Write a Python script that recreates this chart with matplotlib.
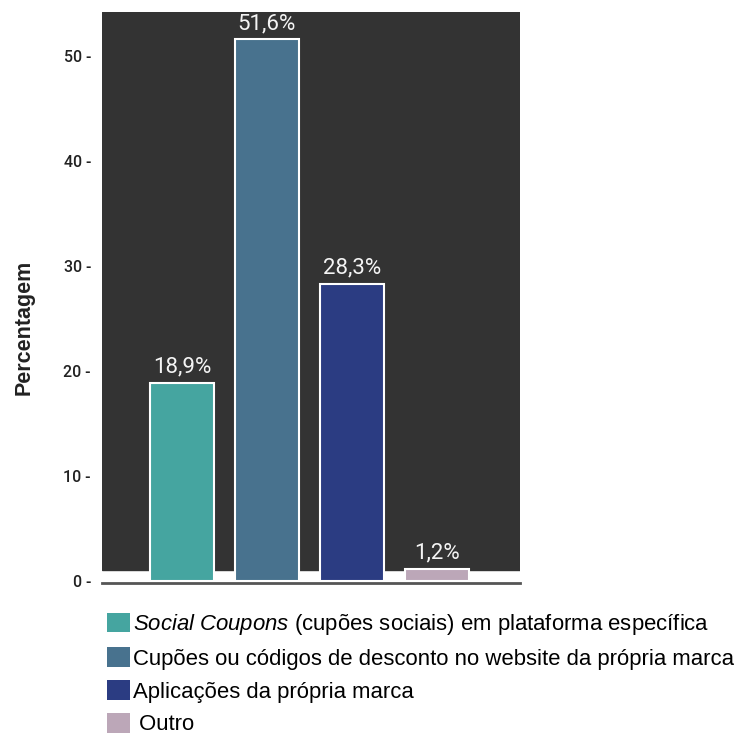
import matplotlib
matplotlib.use("Agg")
import matplotlib.pyplot as plt
from matplotlib.patches import Patch

plt.rcParams["font.family"] = ["Roboto", "DejaVu Sans"]
plt.rcParams["mathtext.fontset"] = "custom"
plt.rcParams["mathtext.rm"] = "Liberation Sans"
plt.rcParams["mathtext.it"] = "Liberation Sans:italic"

categories = [
    r"$\it{Social\ Coupons}$ (cupões sociais) em plataforma específica",
    "Cupões ou códigos de desconto no website da própria marca",
    "Aplicações da própria marca",
    " Outro",
]
values = [18.9, 51.6, 28.3, 1.2]
value_labels = ["18,9%", "51,6%", "28,3%", "1,2%"]
colors = ["#45a5a0", "#48728e", "#2b3c82", "#bca7b8"]
yticks = [0, 10, 20, 30, 40, 50]

W, H = 743, 737
fig = plt.figure(figsize=(W / 100, H / 100), dpi=100)
ax = fig.add_axes([0.1373, 0.2090, 0.5626, 0.7747])

ymin, ymax = -0.15, 54.2
ax.set_ylim(ymin, ymax)
ax.set_xlim(-0.94, 3.98)
ax.set_facecolor("white")
# dark panel behind the bars, leaving a thin white strip at the base
ax.axhspan(1.05, ymax, color="#333333", zorder=0)

x = list(range(len(values)))
bars = ax.bar(x, values, width=0.75, color=colors, edgecolor="white",
              linewidth=1.5, zorder=2)
for xi, v, lab in zip(x, values, value_labels):
    ax.text(xi, v + 0.5, lab, ha="center", va="bottom", color="#f4f4f4",
            fontsize=16, fontweight="normal", zorder=3)

for s in ["top", "right", "left"]:
    ax.spines[s].set_visible(False)
ax.spines["bottom"].set_color("#555555")
ax.spines["bottom"].set_linewidth(2)
ax.spines["bottom"].set_position(("data", ymin))

ax.set_xticks([])
ax.set_yticks(yticks)
ax.set_yticklabels([f"{t} -" for t in yticks], fontsize=11.5,
                   fontweight="medium", color="#222222")
ax.tick_params(axis="y", length=0, pad=8)
fig.text(24 / W, 1 - 327 / H, "Percentagem", rotation=90, ha="center",
         va="center", fontsize=15.5, fontweight="bold", color="#222222",
         family="Liberation Sans")

handles = [Patch(facecolor=c, edgecolor="none") for c in colors]
fig.legend(handles, categories, loc="upper left",
           bbox_to_anchor=(107 / W, 1 - 612 / H), frameon=False,
           prop={"family": "Liberation Sans", "size": 15.9},
           handlelength=1.05, handleheight=1.0, handletextpad=0.12,
           labelspacing=0.47, borderaxespad=0, borderpad=0)

fig.savefig("out.png", dpi=100)
